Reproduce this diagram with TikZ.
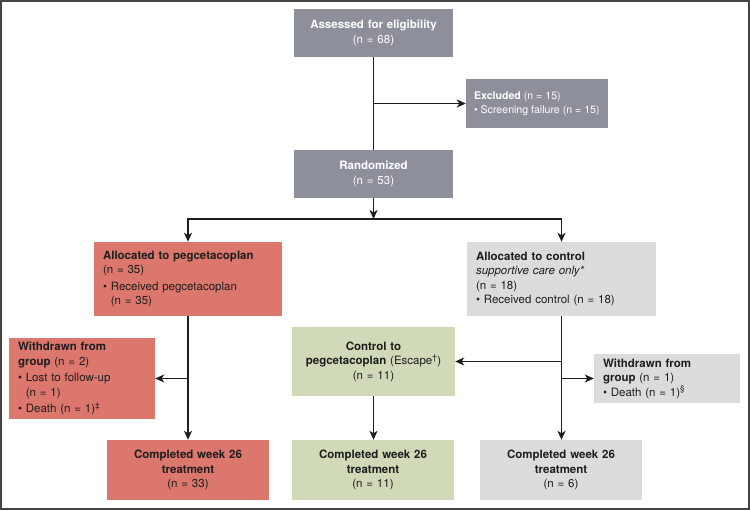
\documentclass[tikz,border=0pt]{standalone}
\usepackage{fontspec}
\setmainfont{TeX Gyre Heros}
\usetikzlibrary{arrows.meta,calc}
\definecolor{slate}{HTML}{8D8F9B}
\definecolor{salmon}{HTML}{DC776D}
\definecolor{lightg}{HTML}{DCDCDF}
\definecolor{sage}{HTML}{D0DAB8}
\definecolor{ink}{HTML}{1E1E1E}
\definecolor{framec}{HTML}{444444}
\newcommand\bul{\textbullet\ }
\newcommand\ind{\phantom{\textbullet\ }}
\tikzset{
  basebox/.style={rectangle, inner xsep=9pt, inner ysep=0pt, text=ink,
    font=\fontsize{11.5}{14.5}\selectfont},
  graybox/.style={basebox, fill=slate, text=white},
  redbox/.style={basebox, fill=salmon},
  lightbox/.style={basebox, fill=lightg},
  greenbox/.style={basebox, fill=sage},
  plaintext/.style={basebox, inner xsep=0pt, align=left},
  conn/.style={draw=ink, line width=1.8pt},
  tip/.tip={Stealth[length=9pt,width=8pt,inset=2.5pt]},
  arr/.style={conn, -tip},
  darr/.style={conn, tip-tip}
}
\begin{document}
\begin{tikzpicture}[x=1pt,y=-1pt]
\useasboundingbox (0,0) rectangle (750,510);
\fill[white] (0,0) rectangle (750,510);
\draw[framec, line width=2pt] (1,1) rectangle (749,509);

% top column
\node[graybox, minimum width=159pt, minimum height=48pt, text width=141pt, align=center] (assess) at (373.5,33)
  {\textbf{Assessed for eligibility}\\(n = 68)};
\node[graybox, minimum width=142pt, minimum height=49pt] (excl) at (537,103.5) {};
\node[plaintext, text=white, anchor=west, font=\fontsize{10.6}{14}\selectfont] (excltext) at ([xshift=8pt]excl.west)
  {\textbf{Excluded} (n = 15)\\\bul Screening failure (n = 15)};
\node[graybox, minimum width=159pt, minimum height=48pt, text width=141pt, align=center] (rand) at (373.5,174)
  {\textbf{Randomized}\\(n = 53)};

% allocation
\node[redbox, minimum width=188pt, minimum height=74pt, text width=170pt, align=left] (peg) at (188,279)
  {\textbf{Allocated to pegcetacoplan}\\(n = 35)\\[2pt]\bul Received pegcetacoplan\\\ind(n = 35)};
\node[lightbox, minimum width=189pt, minimum height=74pt, text width=171pt, align=left] (ctrl) at (561.5,279)
  {\textbf{Allocated to control}\\\textit{supportive care only*}\\(n = 18)\\\bul Received control (n = 18)};

% middle row
\node[redbox, minimum width=146pt, minimum height=81pt, text width=128pt, align=left] (wl) at (82,378.5)
  {\textbf{Withdrawn from}\\\textbf{group} (n = 2)\\[2pt]\bul Lost to follow-up\\\ind(n = 1)\\[2pt]\bul Death (n = 1)\textsuperscript{\textdaggerdbl}};
\node[greenbox, minimum width=163pt, minimum height=69pt, text width=153pt, inner xsep=5pt, align=center] (esc) at (373.5,361.5)
  {\textbf{Control to}\\\textbf{pegcetacoplan} (Escape\textsuperscript{\textdagger})\\(n = 11)};
\node[lightbox, minimum width=146pt, minimum height=49pt, text width=128pt, align=left] (wr) at (667,378.5)
  {\textbf{Withdrawn from}\\\textbf{group} (n = 1)\\\bul Death (n = 1)\textsuperscript{\textsection}};

% bottom row
\node[redbox, minimum width=162pt, minimum height=60pt, text width=144pt, align=center] (compL) at (188,470)
  {\textbf{Completed week 26}\\\textbf{treatment}\\(n = 33)};
\node[greenbox, minimum width=162pt, minimum height=60pt, text width=144pt, align=center] (compM) at (373,470)
  {\textbf{Completed week 26}\\\textbf{treatment}\\(n = 11)};
\node[lightbox, minimum width=162pt, minimum height=60pt, text width=144pt, align=center] (compR) at (561,470)
  {\textbf{Completed week 26}\\\textbf{treatment}\\(n = 6)};

% connectors
\draw[conn] (assess.south) -- (rand.north);
\draw[arr] (assess.south |- excl.west) -- (excl.west);
\coordinate (split) at (373.5,219);
\draw[arr] (rand.south) -- (split);
\draw[darr] (peg.north) -- (peg.north |- split) -- (ctrl.north |- split) -- (ctrl.north);

\draw[arr] (peg.south) -- (peg.south |- compL.north);
\draw[arr] (peg.south |- wl.east) -- (wl.east);

\draw[arr] (ctrl.south) -- (ctrl.south |- compR.north);
\draw[arr] (ctrl.south |- esc.east) -- (esc.east);
\draw[arr] (ctrl.south |- wr.west) -- (wr.west);

\draw[arr] (esc.south) -- (esc.south |- compM.north);
\end{tikzpicture}
\end{document}
